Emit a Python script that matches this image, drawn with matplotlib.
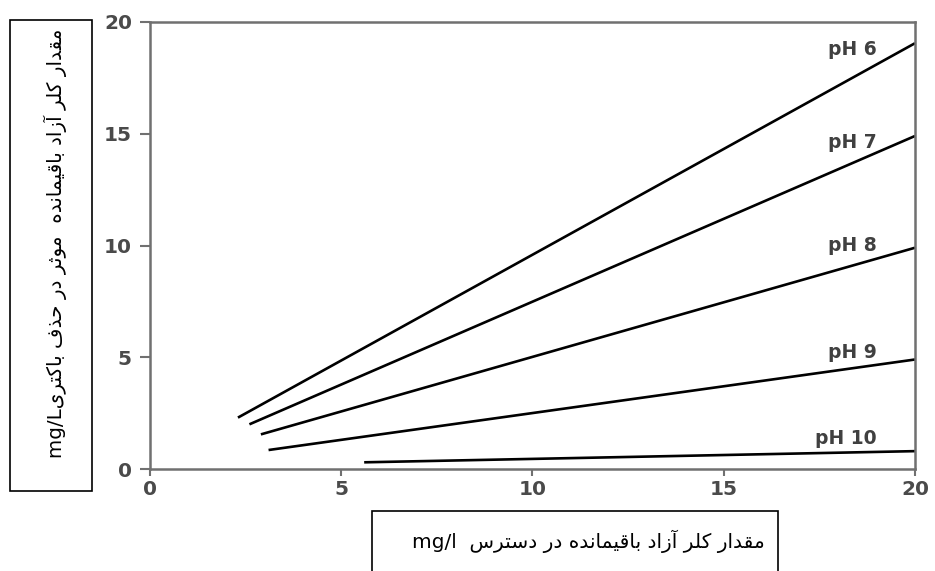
import matplotlib
matplotlib.use("Agg")
import matplotlib.pyplot as plt
from matplotlib.patches import Rectangle

# data
ph_labels = ["pH 6", "pH 7", "pH 8", "pH 9", "pH 10"]
x_start = [2.3, 2.6, 2.9, 3.1, 5.6]
y_start = [2.3, 2.0, 1.55, 0.85, 0.3]
x_end = [20, 20, 20, 20, 20]
y_end = [19.05, 14.9, 9.9, 4.9, 0.8]
ticks = [0, 5, 10, 15, 20]

ylabel_fa = "مقدار کلر آزاد باقیمانده  موثر در حذف باکتری"
ylabel_unit = "mg/L"
xlabel_fa = "مقدار کلر آزاد باقیمانده در دسترس"
xlabel_unit = "mg/l"

# minimal Persian shaping (matplotlib has no bidi / joining)
# letter: (isolated, final, initial, medial)
FORMS = {
    "ا": ("\uFE8D", "\uFE8E", None, None),
    "آ": ("\uFE81", "\uFE82", None, None),
    "ب": ("\uFE8F", "\uFE90", "\uFE91", "\uFE92"),
    "ت": ("\uFE95", "\uFE96", "\uFE97", "\uFE98"),
    "ث": ("\uFE99", "\uFE9A", "\uFE9B", "\uFE9C"),
    "ح": ("\uFEA1", "\uFEA2", "\uFEA3", "\uFEA4"),
    "د": ("\uFEA9", "\uFEAA", None, None),
    "ذ": ("\uFEAB", "\uFEAC", None, None),
    "ر": ("\uFEAD", "\uFEAE", None, None),
    "ز": ("\uFEAF", "\uFEB0", None, None),
    "س": ("\uFEB1", "\uFEB2", "\uFEB3", "\uFEB4"),
    "ف": ("\uFED1", "\uFED2", "\uFED3", "\uFED4"),
    "ق": ("\uFED5", "\uFED6", "\uFED7", "\uFED8"),
    "ک": ("\uFB8E", "\uFB8F", "\uFB90", "\uFB91"),
    "ل": ("\uFEDD", "\uFEDE", "\uFEDF", "\uFEE0"),
    "م": ("\uFEE1", "\uFEE2", "\uFEE3", "\uFEE4"),
    "ن": ("\uFEE5", "\uFEE6", "\uFEE7", "\uFEE8"),
    "ه": ("\uFEE9", "\uFEEA", "\uFEEB", "\uFEEC"),
    "و": ("\uFEED", "\uFEEE", None, None),
    "ی": ("\uFBFC", "\uFBFD", "\uFBFE", "\uFBFF"),
}


def shape_fa(s):
    out = []
    for i, ch in enumerate(s):
        if ch not in FORMS:
            out.append(ch)
            continue
        prev = s[i - 1] if i > 0 else ""
        nxt = s[i + 1] if i + 1 < len(s) else ""
        join_prev = prev in FORMS and FORMS[prev][2] is not None
        join_next = FORMS[ch][2] is not None and nxt in FORMS
        iso, fin, ini, med = FORMS[ch]
        if join_prev and join_next:
            out.append(med)
        elif join_prev:
            out.append(fin)
        elif join_next:
            out.append(ini)
        else:
            out.append(iso)
    return "".join(out)[::-1]


fig = plt.figure(figsize=(9.35, 5.71), dpi=100)
ax = fig.add_axes([0.1604, 0.1786, 0.8182, 0.7829])

for xs, ys, xe, ye in zip(x_start, y_start, x_end, y_end):
    ax.plot([xs, xe], [ys, ye], color="black", lw=1.9, solid_capstyle="butt")

label_y = [18.75, 14.6, 9.98, 5.2, 1.38]
for lab, ly in zip(ph_labels, label_y):
    ax.text(19.0, ly, lab, ha="right", va="center", fontsize=13.5,
            fontweight="bold", color="#404040")

ax.set_xlim(0, 20)
ax.set_ylim(0, 20)
ax.set_xticks(ticks)
ax.set_yticks(ticks)
for sp in ax.spines.values():
    sp.set_color("#707070")
    sp.set_linewidth(1.8)
ax.tick_params(axis="both", direction="out", color="#707070", width=1.5,
               labelsize=14.5, labelcolor="#4a4a4a")
for lbl in ax.get_xticklabels() + ax.get_yticklabels():
    lbl.set_fontweight("bold")
ax.tick_params(axis="y", length=7, pad=6)
ax.tick_params(axis="x", length=5, pad=3)

# y label box
fig.patches.append(Rectangle((10 / 935, 1 - 491 / 571), 82 / 935, 471 / 571,
                             transform=fig.transFigure, fill=False,
                             edgecolor="black", lw=1.2))
fig.text(55 / 935, 1 - 243 / 571, ylabel_unit + shape_fa(ylabel_fa),
         rotation=90, ha="center", va="center", fontsize=14.3,
         family="DejaVu Sans", color="black")

# x label box, open at the bottom edge of the picture
fig.patches.append(Rectangle((372 / 935, -0.05), 406 / 935, 0.05 + 60 / 571,
                             transform=fig.transFigure, fill=False,
                             edgecolor="black", lw=1.2))
fig.text(765 / 935, 1 - 541 / 571, xlabel_unit + "  " + shape_fa(xlabel_fa),
         ha="right", va="center", fontsize=14.5, family="DejaVu Sans",
         color="black")

fig.savefig("out.png", dpi=100)
